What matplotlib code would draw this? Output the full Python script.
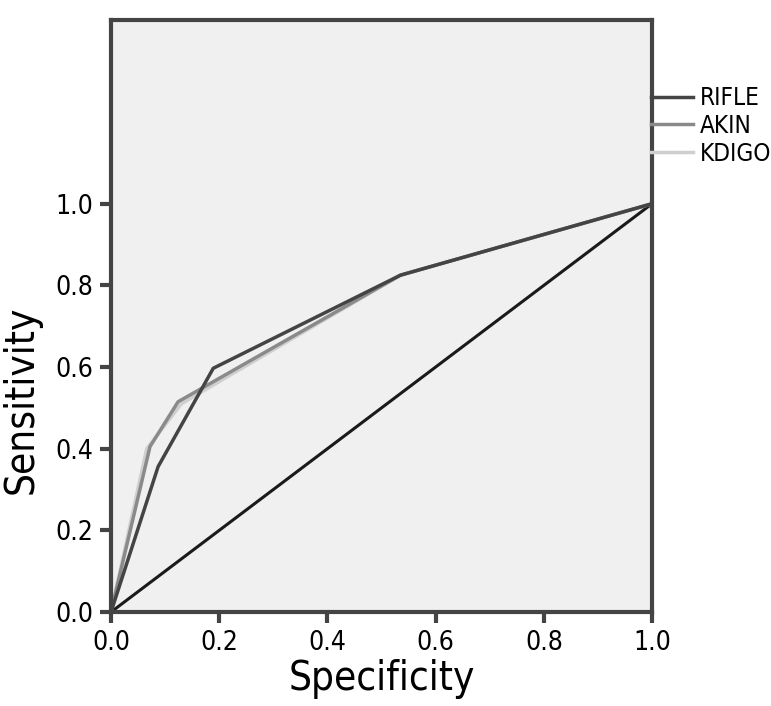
import numpy as np
import matplotlib.pyplot as plt

plt.rcParams['font.family'] = ['DejaVu Sans']
plt.rcParams['font.stretch'] = 'condensed'

# ROC curve points (1 - specificity on x, sensitivity on y)
rifle_x = [0.0, 0.087, 0.189, 0.535, 1.0]
rifle_y = [0.0, 0.356, 0.597, 0.825, 1.0]
akin_x = [0.0, 0.072, 0.124, 0.535, 1.0]
akin_y = [0.0, 0.405, 0.515, 0.825, 1.0]
kdigo_x = [0.0, 0.066, 0.13, 0.535, 1.0]
kdigo_y = [0.0, 0.40, 0.51, 0.825, 1.0]
ref_x = [0.0, 1.0]
ref_y = [0.0, 1.0]
ticks = [0.0, 0.2, 0.4, 0.6, 0.8, 1.0]

fig = plt.figure(figsize=(7.71, 7.06), dpi=100)
ax = fig.add_axes([0.144, 0.1331, 0.7017, 0.8386])
ax.set_facecolor('#f0f0f0')

ax.plot(ref_x, ref_y, color='#1a1a1a', linewidth=2.2)
ax.plot(kdigo_x, kdigo_y, color='#cfcfcf', linewidth=2.5, label='KDIGO')
ax.plot(akin_x, akin_y, color='#8a8a8a', linewidth=2.5, label='AKIN')
ax.plot(rifle_x, rifle_y, color='#444444', linewidth=2.5, label='RIFLE')

ax.set_xlim(0, 1.0)
ax.set_ylim(0, 1.45)
ax.set_xticks(ticks)
ax.set_yticks(ticks)
ax.set_xticklabels(['%.1f' % t for t in ticks], fontsize=19)
ax.set_yticklabels(['%.1f' % t for t in ticks], fontsize=19)
ax.tick_params(direction='out', length=8, width=3, color='#444444', pad=5)

for s in ax.spines.values():
    s.set_color('#444444')
    s.set_linewidth(3)

ax.set_xlabel('Specificity', fontsize=29, labelpad=2)
ax.set_ylabel('Sensitivity', fontsize=29)
ax.yaxis.set_label_coords(-0.128, 0.358)

# legend outside to the right
h, l = ax.get_legend_handles_labels()
leg = ax.legend(h[::-1], l[::-1], loc='upper left', bbox_to_anchor=(0.998, 0.888),
                frameon=False, fontsize=17.5, handlelength=1.75, handletextpad=0.25,
                labelspacing=0.15, borderaxespad=0, borderpad=0)

fig.savefig('out.png', dpi=100)
